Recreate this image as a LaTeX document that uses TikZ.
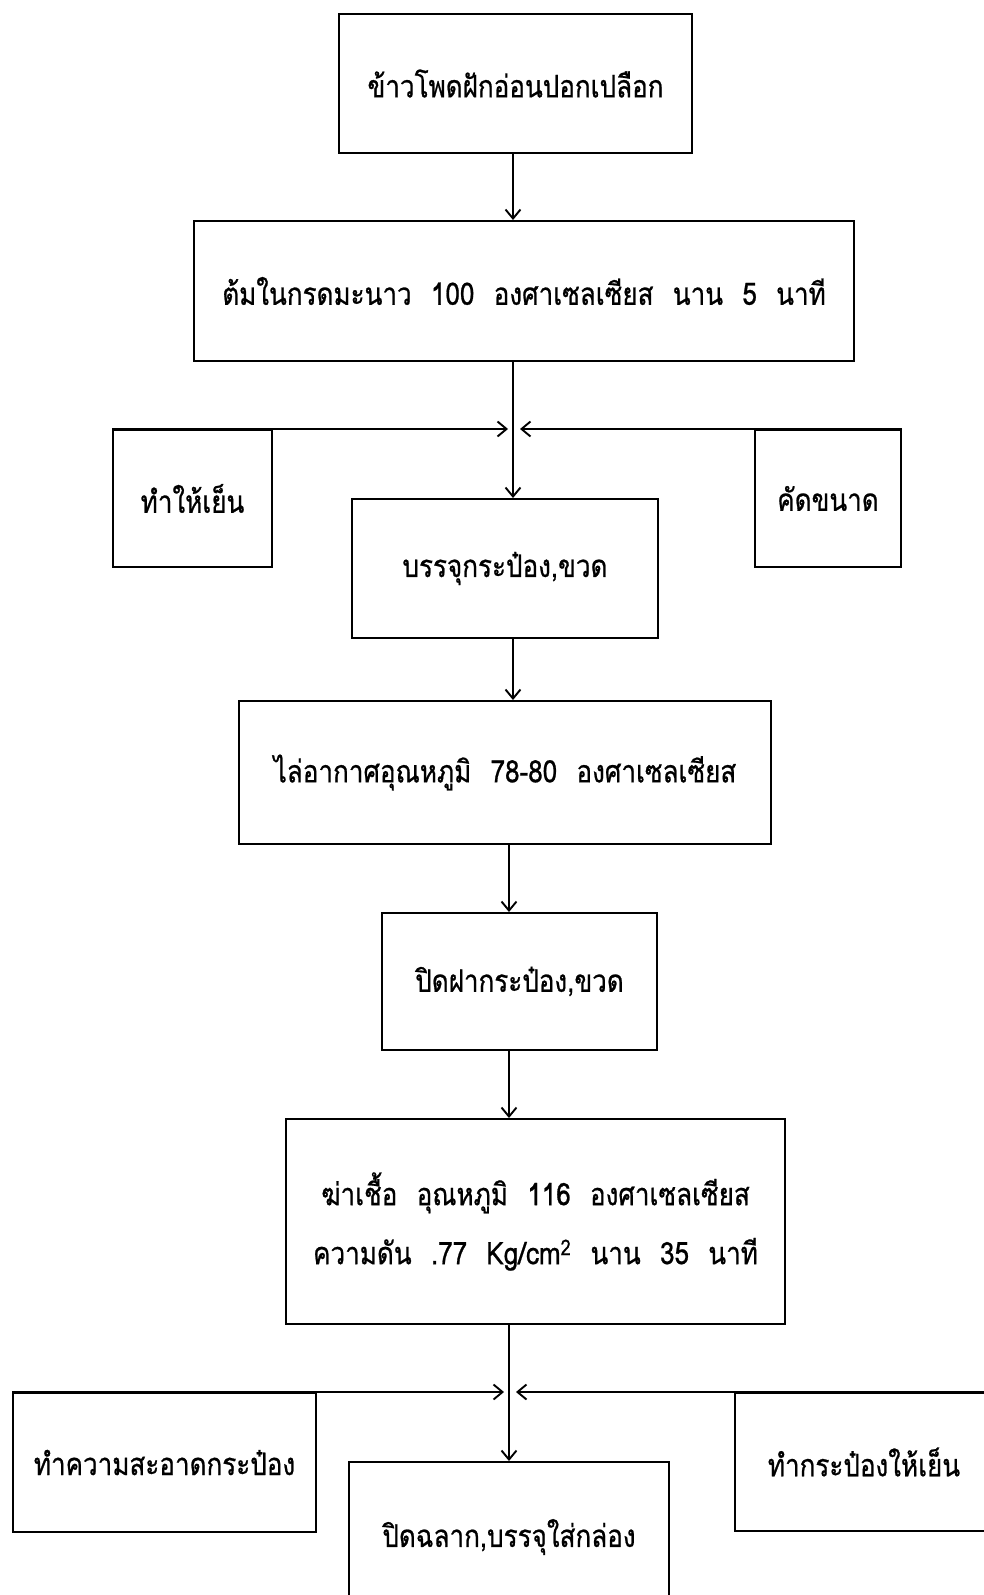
\documentclass[tikz,border=0pt]{standalone}
\usepackage{fontspec}
\newfontfamily\thai[Script=Thai,WordSpace=2.2,FakeStretch=0.84,FakeBold=0.7]{Loma}
\usetikzlibrary{arrows.meta,calc}
\begin{document}
\begin{tikzpicture}[x=1pt,y=-1pt,
  box/.style={draw,line width=2pt,anchor=north west,inner sep=0pt,align=center,
    font=\thai\fontsize{31}{59}\selectfont},
  arr/.style={line width=1.5pt,-{Straight Barb[length=9pt,width=15pt,line width=1.9pt]}}]
\useasboundingbox (0,0) rectangle (983,1595);
\fill[white] (0,0) rectangle (983,1595);
% boxes
\node[box,minimum width=353pt,minimum height=139pt] (b1) at (338,13) {ข้าวโพดฝักอ่อนปอกเปลือก};
\node[box,minimum width=660pt,minimum height=140pt] (b2) at (193,220) {ต้มในกรดมะนาว 100 องศาเซลเซียส นาน 5 นาที};
\node[box,minimum width=159pt,minimum height=137pt] (lb1) at (112,429) {ทำให้เย็น};
\node[box,minimum width=146pt,minimum height=137pt] (rb1) at (754,429) {คัดขนาด};
\node[box,minimum width=306pt,minimum height=139pt] (b3) at (351,498) {บรรจุกระป๋อง,ขวด};
\node[box,minimum width=532pt,minimum height=143pt] (b4) at (238,700) {ไล่อากาศอุณหภูมิ 78-80 องศาเซลเซียส};
\node[box,minimum width=275pt,minimum height=137pt] (b5) at (381,912) {ปิดฝากระป๋อง,ขวด};
\node[box,minimum width=499pt,minimum height=205pt] (b6) at (285,1118) {ฆ่าเชื้อ อุณหภูมิ 116 องศาเซลเซียส\\ความดัน .77 Kg/cm\textsuperscript{2} นาน 35 นาที};
\node[box,minimum width=303pt,minimum height=139pt] (lb2) at (12,1392) {ทำความสะอาดกระป๋อง};
\node[box,minimum width=258pt,minimum height=138pt] (rb2) at (734,1392) {ทำกระป๋องให้เย็น};
\node[box,minimum width=320pt,minimum height=150pt] (b7) at (348,1461) {ปิดฉลาก,บรรจุใส่กล่อง};
% columns and junctions
\coordinate (c1) at (513,0);
\coordinate (c2) at (509,0);
\coordinate (J1) at (513,429);
\coordinate (J2) at (509,1392);
% connectors
\draw[arr] (b1.south -| c1) -- (b2.north -| c1);
\draw[arr] (b2.south -| c1) -- (b3.north -| c1);
\draw[arr] (lb1.north west) -- ([xshift=-5pt]J1);
\draw[arr] (rb1.north east) -- ([xshift=7pt]J1);
\draw[arr] (b3.south -| c1) -- (b4.north -| c1);
\draw[arr] (b4.south -| c2) -- (b5.north -| c2);
\draw[arr] (b5.south -| c2) -- (b6.north -| c2);
\draw[arr] (b6.south -| c2) -- (b7.north -| c2);
\draw[arr] (lb2.north west) -- ([xshift=-5pt]J2);
\draw[arr] (rb2.north east) -- ([xshift=7pt]J2);
\end{tikzpicture}
\end{document}
